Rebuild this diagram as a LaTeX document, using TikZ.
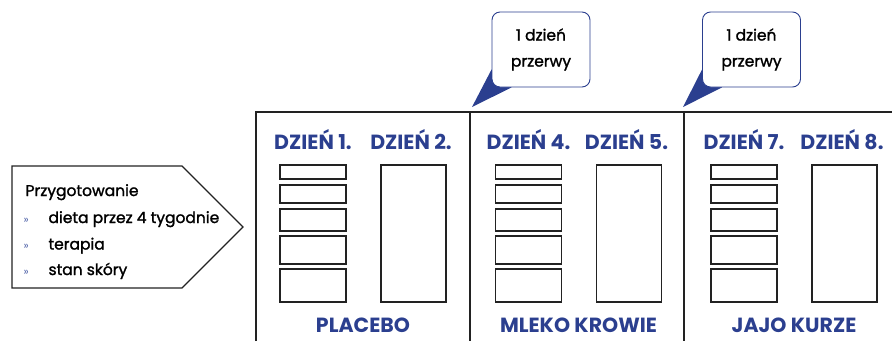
\documentclass[tikz,border=0pt]{standalone}
\usepackage{fontspec}
\setmainfont{Poppins}
\newfontfamily\mediumfont{Poppins}[FakeBold=1.5]
\usetikzlibrary{calc,backgrounds}
\definecolor{StudyBlue}{HTML}{2B3F8F}
\definecolor{BulletBlue}{HTML}{4F62A8}
\definecolor{LineGray}{HTML}{222222}

\tikzset{
  day/.style={anchor=base,text=StudyBlue,font=\fontsize{20.5}{24}\selectfont\bfseries},
  product/.style={day},
  slot/.style={draw=LineGray,line width=1.2pt},
  frame/.style={draw=LineGray,line width=1.4pt},
  divider/.style={draw=LineGray,line width=2.2pt},
  bubble/.style={draw=StudyBlue,fill=white,line width=0.9pt,rounded corners=8pt,
    minimum width=98pt,minimum height=75pt,inner sep=0pt,align=center,
    font=\mediumfont\fontsize{15.5}{26}\selectfont},
  listhead/.style={anchor=base west,font=\mediumfont\fontsize{15.5}{18}\selectfont},
  listitem/.style={listhead},
  guillemet/.style={anchor=base west,text=BulletBlue,font=\fontsize{11}{12}\selectfont}
}

\begin{document}
\begin{tikzpicture}[x=1pt,y=-1pt,line join=miter]
  \useasboundingbox (0,0) rectangle (892,341);
  % preparation arrow
  \draw[slot] (12,166) -- (182,166) -- (243,227) -- (182,288) -- (12,288) -- cycle;
  \node[listhead] (prep) at (22,196) {Przygotowanie};
  \foreach \y/\txt [count=\k] in {223/dieta przez 4 tygodnie,249.5/terapia,275/stan skóry}{
    \node[guillemet] (b\k) at (20,\y) {»}; \node[listitem] (t\k) at (45,\y) {\txt};}
  % study frame
  \draw[frame] (256,341) -- (256,112) -- (892,112);
  \draw[divider] (470,112) -- (470,341); \draw[divider] (684,112) -- (684,341);
  \foreach \i/\a/\b/\food in {0/1/2/PLACEBO,1/4/5/MLEKO KROWIE,2/7/8/JAJO KURZE}{
    \begin{scope}[xshift=215.5*\i]
      \node[day] (d\a) at (313,149) {DZIEŃ \a.}; \node[day] (d\b) at (411,149) {DZIEŃ \b.};
      \foreach \top/\bot in {165/179,185/203,209/231,236/264,269/302}
        \draw[slot] (280,\top) rectangle (346,\bot);
      \draw[slot] (381,165) rectangle (446,302);
      \node[product] (p\i) at (363,332) {\food};
    \end{scope}}
  % break callouts
  \node[bubble] (pause1) at (541,49.5) {1 dzień\\przerwy};
  \node[bubble] (pause2) at (751.5,49.5) {1 dzień\\przerwy};
  \coordinate (gap1) at (472,107); \coordinate (gap2) at (683,107);
  \begin{scope}[on background layer]
    \foreach \k in {1,2}
      \fill[StudyBlue] ($(pause\k.south west)+(0,-18)$) -- ($(pause\k.south west)+(20,0)$) -- (gap\k) -- cycle;
  \end{scope}
\end{tikzpicture}
\end{document}
